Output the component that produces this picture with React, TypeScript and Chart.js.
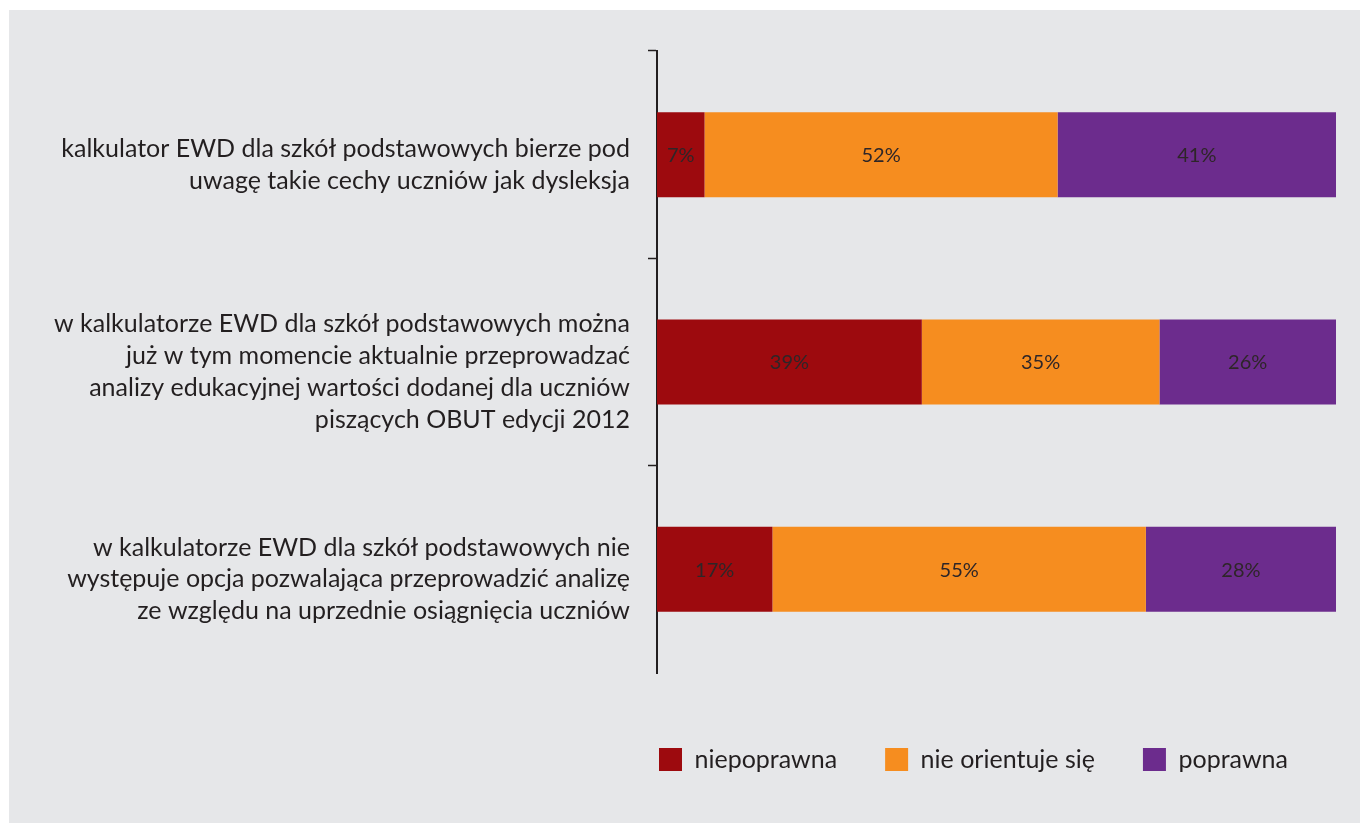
import React, { useEffect, useRef } from "react";
import { Chart, registerables } from "chart.js";

Chart.register(...registerables);

const categories: string[][] = [
  ["kalkulator EWD dla szkół podstawowych bierze pod", "uwagę takie cechy uczniów jak dysleksja"],
  [
    "w kalkulatorze EWD dla szkół podstawowych można",
    "już w tym momencie aktualnie przeprowadzać",
    "analizy edukacyjnej wartości dodanej dla uczniów",
    "piszących OBUT edycji 2012",
  ],
  [
    "w kalkulatorze EWD dla szkół podstawowych nie",
    "występuje opcja pozwalająca przeprowadzić analizę",
    "ze względu na uprzednie osiągnięcia uczniów",
  ],
];

const seriesNames = ["niepoprawna", "nie orientuje się", "poprawna"];
const niepoprawna = [7, 39, 17];
const nieOrientujeSie = [52, 35, 55];
const poprawna = [41, 26, 28];
const seriesColors = ["#9d0a0e", "#f68d1f", "#6c2c8d"];

const TEXT = "#231f20";
const FONT = "Lato, 'Open Sans', sans-serif";
const W = 1351;
const H = 813;

const valueLabels = {
  id: "valueLabels",
  afterDatasetsDraw(chart: any) {
    const ctx = chart.ctx;
    ctx.save();
    ctx.font = `20px ${FONT}`;
    ctx.fillStyle = "#2e2628";
    ctx.textAlign = "center";
    ctx.textBaseline = "middle";
    chart.data.datasets.forEach((ds: any, di: number) => {
      const meta = chart.getDatasetMeta(di);
      meta.data.forEach((el: any, i: number) => {
        const v = ds.data[i];
        const cx = (el.x + el.base) / 2;
        ctx.fillText(`${v}%`, cx, el.y + 1);
      });
    });
    ctx.restore();
  },
};

const legendPlace = {
  id: "legendPlace",
  afterLayout(chart: any) {
    const lg = chart.legend;
    if (!lg) return;
    const pad = lg.options.labels.padding;
    const h = lg.height;
    lg.left = chart.chartArea.left + 2 - pad;
    lg.top = 737 - pad;
    lg.bottom = lg.top + h;
  },
};

export default function App() {
  const ref = useRef<HTMLCanvasElement | null>(null);

  useEffect(() => {
    if (!ref.current) return;
    const chart = new Chart(ref.current, {
      type: "bar",
      data: {
        labels: categories,
        datasets: [niepoprawna, nieOrientujeSie, poprawna].map((d, i) => ({
          label: seriesNames[i],
          data: d,
          backgroundColor: seriesColors[i],
          borderWidth: 0,
          barPercentage: 0.41,
          categoryPercentage: 1,
        })),
      },
      options: {
        indexAxis: "y",
        animation: false,
        responsive: false,
        devicePixelRatio: 1,
        layout: { padding: { top: 41, right: 24, left: 0, bottom: 67 } },
        scales: {
          x: {
            stacked: true,
            display: false,
            min: 0,
            max: 100,
          },
          y: {
            stacked: true,
            afterFit(scale: any) {
              scale.width = 648;
              scale.paddingTop = 0;
              scale.paddingBottom = 0;
            },
            border: { display: true, color: TEXT, width: 2 },
            grid: {
              drawOnChartArea: false,
              drawTicks: true,
              tickLength: 9,
              tickWidth: 1.5,
              tickColor: (ctx: any) => (ctx.type === "tick" ? TEXT : "rgba(0,0,0,0)"),
            },
            ticks: {
              color: TEXT,
              padding: 18,
              labelOffset: 10,
              font: { family: FONT, size: 25, lineHeight: 1.27 },
            },
          },
        },
        plugins: {
          legend: {
            position: "bottom",
            align: "start",
            labels: {
              boxWidth: 23,
              boxHeight: 23,
              padding: 48,
              color: TEXT,
              font: { family: FONT, size: 25 },
            },
          },
          tooltip: { enabled: false },
        },
      },
      plugins: [valueLabels, legendPlace],
    });
    return () => chart.destroy();
  }, []);

  return (
    <div
      style={{
        position: "fixed",
        left: 9,
        top: 10,
        width: W,
        height: H,
        background: "#e6e7e9",
      }}
    >
      <canvas ref={ref} width={W} height={H} style={{ display: "block", width: W, height: H }} />
    </div>
  );
}
